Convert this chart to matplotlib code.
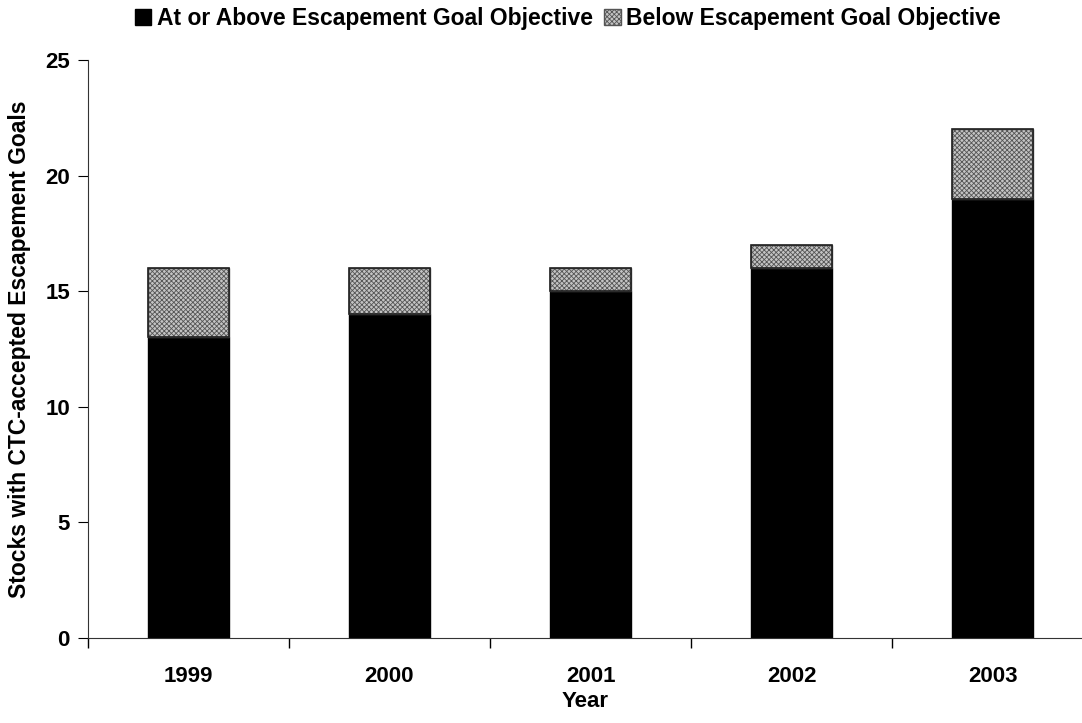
import matplotlib.pyplot as plt
from matplotlib.patches import Patch
import numpy as np

plt.rcParams['font.family'] = ['Liberation Sans', 'DejaVu Sans']
plt.rcParams['font.weight'] = 'bold'
plt.rcParams['hatch.linewidth'] = 0.6

years = ['1999', '2000', '2001', '2002', '2003']
above = [13, 14, 15, 16, 19]
below = [3, 2, 1, 1, 3]

fig = plt.figure(figsize=(10.82, 7.23), dpi=100)
ax = fig.add_axes([0.0813, 0.1176, 0.9187, 0.7994])

x = np.arange(len(years))
ax.bar(x, above, width=0.4, color='black', edgecolor='black', linewidth=1)
ax.bar(x, below, width=0.4, bottom=above, color='#c4c4c4', edgecolor='#555555',
       hatch='xxxxxxx', linewidth=1)
# outline for the hatched part
ax.bar(x, below, width=0.4, bottom=above, fill=False, edgecolor='#222222', linewidth=1.2)

ax.set_xlim(-0.5, 4.445)
ax.set_ylim(0, 25)
ax.set_yticks([0, 5, 10, 15, 20, 25])
ax.set_xticks(x)
ax.set_xticklabels(years)
ax.set_xticks(np.arange(-0.5, 4.5, 1), minor=True)
ax.tick_params(axis='x', which='major', length=0, pad=20, labelsize=16)
ax.tick_params(axis='x', which='minor', length=7, direction='out', width=1)
ax.tick_params(axis='y', length=7, direction='out', labelsize=16, pad=6)

for s in ['top', 'right']:
    ax.spines[s].set_visible(False)
ax.spines['left'].set_color('#333333')
ax.spines['bottom'].set_color('#333333')

ax.set_xlabel('Year', fontsize=16, fontweight='bold', labelpad=3)
ax.set_ylabel('Stocks with CTC-accepted Escapement Goals', fontsize=16.5, fontweight='bold', labelpad=10)

handles = [Patch(facecolor='black', edgecolor='black'),
           Patch(facecolor='#c4c4c4', edgecolor='#555555', hatch='xxxxxxx')]
fig.legend(handles, ['At or Above Escapement Goal Objective', 'Below Escapement Goal Objective'],
           loc='upper center', bbox_to_anchor=(0.525, 1.0), ncol=2, frameon=False,
           borderaxespad=0, borderpad=0.3,
           fontsize=16.5, handlelength=0.7, handleheight=0.7, handletextpad=0.25, columnspacing=0.5)

fig.savefig('out.png', dpi=100)
